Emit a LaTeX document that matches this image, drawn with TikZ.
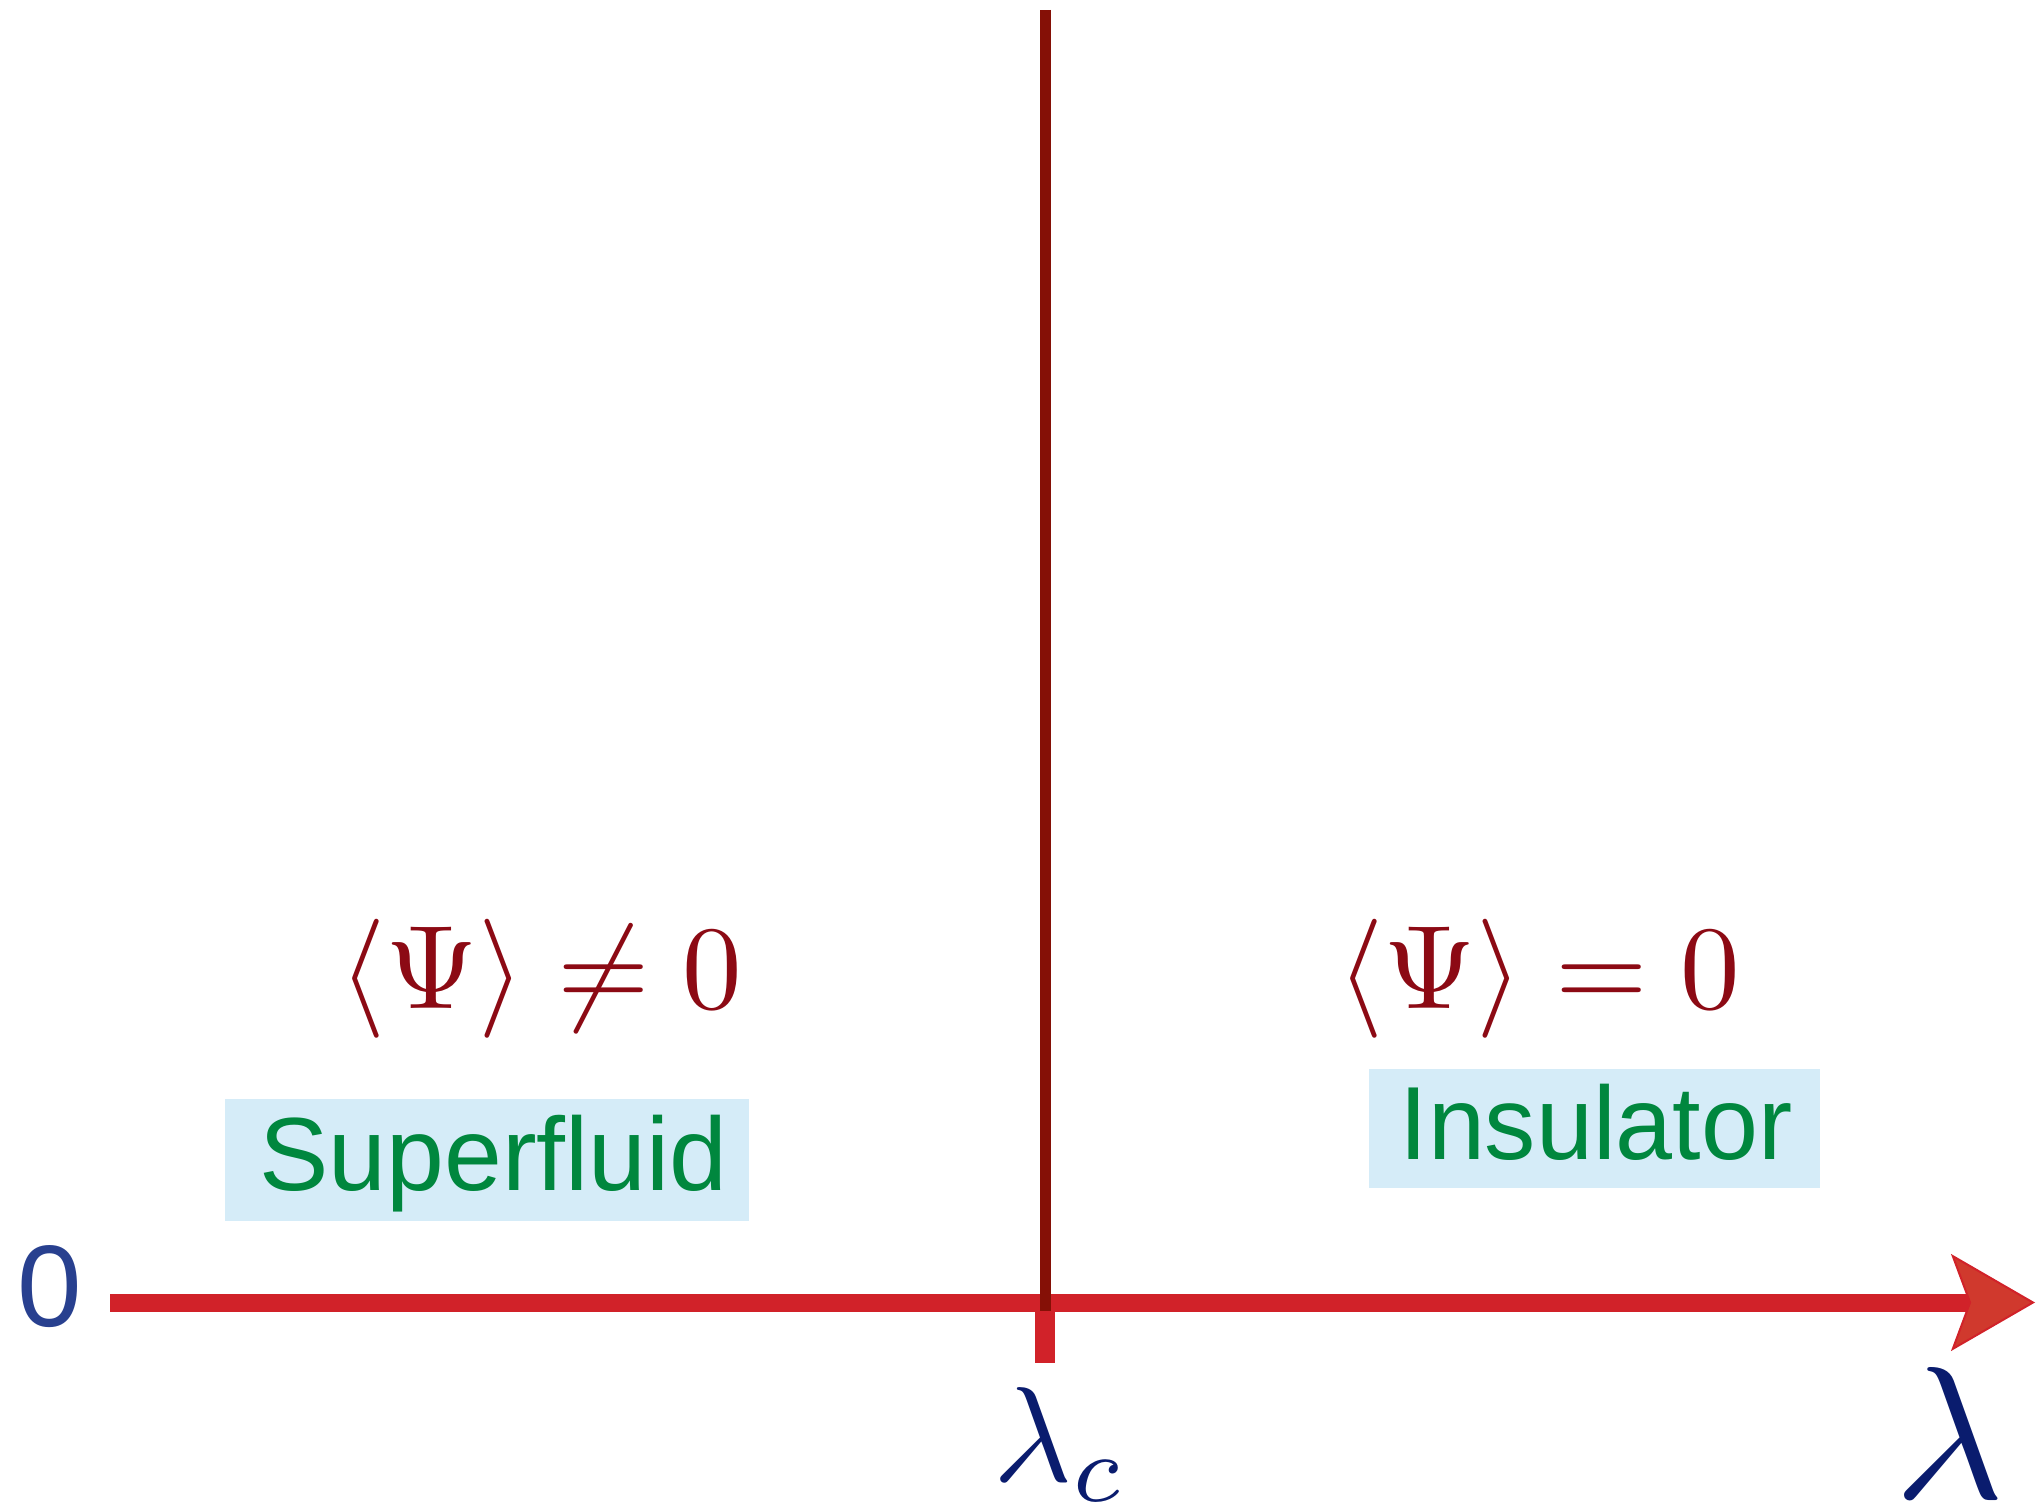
\documentclass[tikz,border=0pt]{standalone}
\usepackage[no-math]{fontspec}
\setmainfont{Liberation Sans}
\usetikzlibrary{arrows.meta}
\definecolor{axisred}{RGB}{209,34,41}
\definecolor{tipfill}{RGB}{208,57,45}
\definecolor{vlinered}{RGB}{133,16,6}
\definecolor{mathred}{RGB}{140,10,20}
\definecolor{zeroblue}{RGB}{40,64,143}
\definecolor{lamblue}{RGB}{10,28,110}
\definecolor{phasegreen}{RGB}{0,135,62}
\definecolor{boxblue}{RGB}{213,236,248}
\tikzset{
  txt/.style={inner sep=0pt, anchor=base},
  phasebox/.style={fill=boxblue, draw=none, inner sep=0pt},
  phaselabel/.style={txt, text=phasegreen, font=\fontsize{52pt}{60pt}\selectfont},
  mathlabel/.style={txt, text=mathred, font=\fontsize{10pt}{12pt}\selectfont},
}
\begin{document}
\begin{tikzpicture}[x=0.5pt,y=-0.5pt]
\useasboundingbox (0,0) rectangle (2036,1502);
% coordinates
\coordinate (O) at (110,1302.5);
\coordinate (E) at (2035,1302.5);
\coordinate (T) at (1045.5,10);
\coordinate (B) at (1045.5,1311);
\coordinate (K0) at (1045,1302);
\coordinate (K1) at (1045,1363);
% boxes
\node[phasebox, minimum width=262.3pt, minimum height=61pt] (sfbox) at (487,1160) {};
\node[phasebox, minimum width=225.5pt, minimum height=59.5pt] (inbox) at (1594.5,1128.5) {};
\node[phaselabel] (sf) at (493.5,1190) {Superfluid};
\node[phaselabel] (ins) at (1596,1159) {\scalebox{0.985}[1]{Insulator}};
% math labels
\node[mathlabel] (psine) at (541,1008) {\scalebox{5.95}{$\langle\Psi\rangle\neq0$}};
\node[mathlabel] (psieq) at (1539,1008) {\scalebox{5.95}{$\langle\Psi\rangle=0$}};
% axis
\draw[axisred, line width=10pt] (K0) -- (K1);
\draw[axisred, line width=9pt,
  -{Stealth[length=42pt, width=48.5pt, inset=9pt, line width=1pt, fill=tipfill]}] (O) -- (E);
\draw[vlinered, line width=5.5pt] (T) -- (B);
% axis labels
\node[txt, text=zeroblue, font=\fontsize{58pt}{60pt}\selectfont] (zero) at (50,1326) {0};
\node[txt, anchor=base west, text=lamblue, font=\fontsize{10pt}{12pt}\selectfont] (lc) at (993,1481) {\scalebox{6.77}{$\lambda_c$}};
\node[txt, text=lamblue, font=\fontsize{10pt}{12pt}\selectfont] (lam) at (1950,1498) {\scalebox{9.44}{$\lambda$}};
\end{tikzpicture}
\end{document}
